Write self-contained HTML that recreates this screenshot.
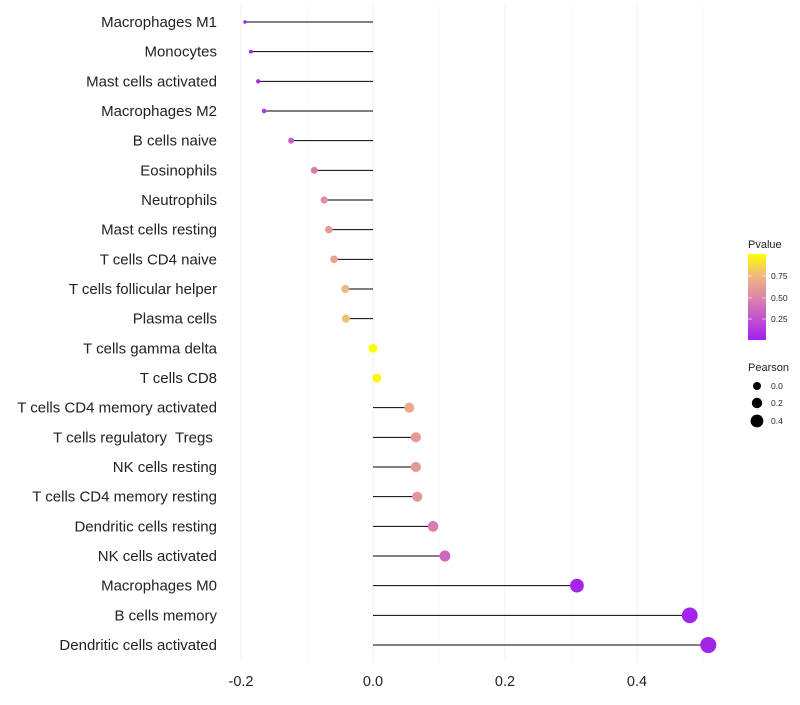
<!DOCTYPE html>
<html><head><meta charset="utf-8"><style>
body{margin:0;background:#fff;font-family:"Liberation Sans",sans-serif}
svg text{font-family:"Liberation Sans",sans-serif;white-space:pre}
</style></head><body>
<svg id="c" width="800" height="700"></svg>
<script>
const categories=["Macrophages M1","Monocytes","Mast cells activated","Macrophages M2","B cells naive","Eosinophils","Neutrophils","Mast cells resting","T cells CD4 naive","T cells follicular helper","Plasma cells","T cells gamma delta","T cells CD8","T cells CD4 memory activated","T cells regulatory  Tregs ","NK cells resting","T cells CD4 memory resting","Dendritic cells resting","NK cells activated","Macrophages M0","B cells memory","Dendritic cells activated"];
const pearson=[-0.194,-0.185,-0.174,-0.165,-0.124,-0.089,-0.074,-0.067,-0.059,-0.042,-0.041,0.0,0.006,0.055,0.065,0.065,0.067,0.091,0.109,0.309,0.480,0.508];
const pvalue=[0.02,0.03,0.05,0.12,0.3,0.45,0.55,0.6,0.65,0.75,0.78,1.0,0.97,0.66,0.6,0.6,0.58,0.45,0.35,0.02,0.02,0.02];
const xTicks=[-0.2,0,0.2,0.4];
const xMinor=[-0.1,0.1,0.3,0.5];
const NS="http://www.w3.org/2000/svg";
const svg=document.getElementById('c');
function mk(t,a,p){const e=document.createElementNS(NS,t);for(const k in a)e.setAttribute(k,a[k]);(p||svg).appendChild(e);return e;}
const xs=v=>373+v*660;
const ys=i=>22+i*(645-22)/21;
const rs=v=>Math.sqrt(Math.max(20+88*v,2.2));
function col(p){const st=[[0,[160,32,240]],[0.25,[196,82,208]],[0.5,[222,134,168]],[0.75,[240,184,128]],[1,[255,255,0]]];
for(let i=0;i<st.length-1;i++){if(p<=st[i+1][0]){const t=(p-st[i][0])/(st[i+1][0]-st[i][0]);const a=st[i][1],b=st[i+1][1];return `rgb(${a.map((c,j)=>Math.round(c+(b[j]-c)*t)).join(',')})`;}}return 'rgb(255,255,0)';}
xMinor.forEach(v=>{const l=mk('line',{x1:xs(v),x2:xs(v),y1:5,y2:662,stroke:'#f7f7f7','stroke-width':0.8});

});
xTicks.forEach(v=>{const l=mk('line',{x1:xs(v),x2:xs(v),y1:5,y2:662,stroke:'#f0f0f0','stroke-width':1});


const t=mk('text',{x:xs(v),y:686,'text-anchor':'middle','font-size':14.5,fill:'#222'});t.textContent=v===0?'0.0':v.toFixed(1);

});
categories.forEach((c,i)=>{const y=ys(i);
const t=mk('text',{x:217,y:y+5,'text-anchor':'end','font-size':15,fill:'#222'});t.textContent=c;


const l=mk('line',{x1:xs(0),x2:xs(pearson[i]),y1:y,y2:y,stroke:'#000','stroke-width':1});


const d=mk('circle',{cx:xs(pearson[i]),cy:y,r:rs(pearson[i]),fill:col(pvalue[i])});

});
const defs=mk('defs',{});const g=mk('linearGradient',{id:'pg',x1:0,y1:1,x2:0,y2:0},defs);
[0,0.25,0.5,0.75,1].forEach(p=>mk('stop',{offset:p,'stop-color':col(p)},g));
const lt=mk('text',{x:748,y:248,'font-size':11,fill:'#222'});lt.textContent='Pvalue';


const bar=mk('rect',{x:748,y:254,width:18,height:86,fill:'url(#pg)'});


[[0.75,276],[0.5,298],[0.25,319]].forEach(([v,y])=>{mk('line',{x1:748,x2:752,y1:y,y2:y,stroke:'#fff','stroke-width':0.6});mk('line',{x1:762,x2:766,y1:y,y2:y,stroke:'#fff','stroke-width':0.6});
const t=mk('text',{x:771,y:y+3,'font-size':8.5,fill:'#222'});t.textContent=v.toFixed(2);

});
const st=mk('text',{x:748,y:371,'font-size':11,fill:'#222'});st.textContent='Pearson';


[[0.0,386,4],[0.2,403,5.2],[0.4,421,6.4]].forEach(([v,y,r])=>{const c=mk('circle',{cx:757,cy:y,r:r,fill:'#000'});


const t=mk('text',{x:771,y:y+3,'font-size':8.5,fill:'#222'});t.textContent=v.toFixed(1);

});
</script>
</body></html>
